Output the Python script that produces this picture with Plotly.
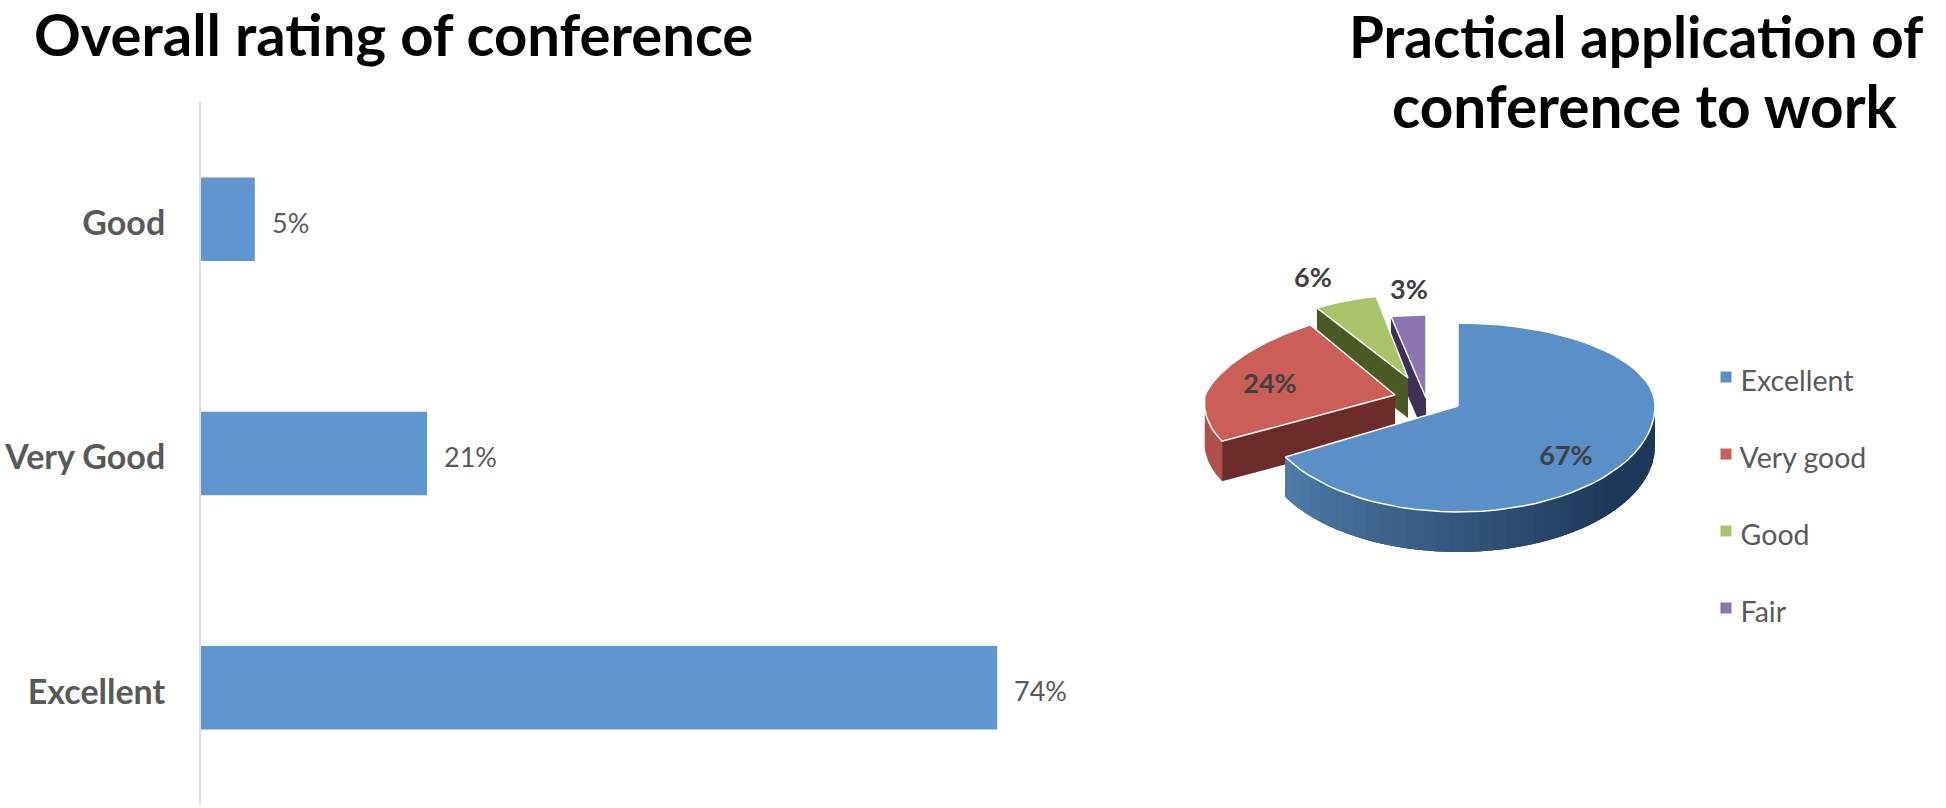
import math
import plotly.graph_objects as go

# ---- data ----
bar_categories = ["Excellent", "Very Good", "Good"]
bar_values = [74, 21, 5]
pie_categories = ["Excellent", "Very good", "Good", "Fair"]
pie_values = [67, 24, 6, 3]
left_title = "Overall rating of conference"
right_title_lines = ["Practical application of", "conference to work"]

# ---- style / layout constants ----
W, H = 1946, 808
FONT = "Lato"
BAR_COLOR = "#5f96cf"
TOP = ["#5a8fc8", "#cb5f58", "#a9c468", "#8c75b0"]
CUT = ["#1f3b5c", "#6b2c2a", "#4b5a25", "#3f3059"]
WALL_A = [(78, 124, 170), (176, 80, 76), (130, 150, 80), (100, 80, 130)]
WALL_B = [(29, 56, 88), (176, 80, 76), (110, 130, 66), (80, 64, 110)]
APEX = [(1458, 406), (1395, 395), (1408, 378), (1426, 398)]
RX = [197, 190, 170, 187]
K_BACK = [0, 0.2, 0, 0]     # narrowing of the far half of a slice
K_FRONT = [0, 0.08, 0, 0]   # widening of the near half of a slice
RY_BACK = 83
RY_FRONT = [106, 96, 106, 106]
DEPTH = 40
LABEL_POS = [(1566, 458), (1270, 386), (1313, 280), (1409, 292)]
KEY_X = 1726
KEY_MARK_Y = [377, 454, 531, 608]
KEY_TEXT_Y = [384, 461, 538, 615]
PLOT_L, PLOT_R, PLOT_T, PLOT_B = 201, 1101, 102, 805
PX_PER_UNIT = 10.76

fig = go.Figure()

# bar chart
fig.add_trace(go.Bar(
    x=bar_values, y=bar_categories, orientation="h", width=0.356,
    marker=dict(color=BAR_COLOR, line=dict(width=0)), showlegend=False,
    xaxis="x", yaxis="y", hoverinfo="skip"))


def pt(i, deg):
    t = math.radians(deg)
    c = math.cos(t)
    ry = RY_BACK if c > 0 else RY_FRONT[i]
    k = K_BACK[i] if c > 0 else K_FRONT[i]
    return APEX[i][0] + RX[i] * math.sin(t) * (1 - k * c), APEX[i][1] - ry * c


def poly(xs, ys, fill, line="rgba(0,0,0,0)", lw=0):
    fig.add_trace(go.Scatter(
        x=xs + xs[:1], y=ys + ys[:1], mode="lines", fill="toself", fillcolor=fill,
        line=dict(color=line, width=lw), showlegend=False, xaxis="x2", yaxis="y2",
        hoverinfo="skip"))


def arc(i, a, b, n=60):
    return [pt(i, a + (b - a) * k / n) for k in range(n + 1)]


total = sum(pie_values)
spans = []
cum = 0.0
for v in pie_values:
    spans.append((cum * 360 / total, (cum + v) * 360 / total))
    cum += v

# back wedges first, the large one last so that it overlaps the others
for i in [3, 2, 1, 0]:
    a, b = spans[i]
    ax, ay = APEX[i]
    # radial cut face at the wedge's start angle (visible for the pulled slices)
    if i > 0:
        x1, y1 = pt(i, a)
        poly([ax, x1, x1, ax], [ay, y1, y1 + DEPTH, ay + DEPTH], CUT[i])
    # outer wall, front-facing part only
    w0, w1 = max(a, 90), min(b, 270)
    if w0 < w1:
        n = 36 if i == 0 else 1
        for k in range(n):
            p = w0 + (w1 - w0) * k / n
            q = w0 + (w1 - w0) * (k + 1) / n
            f = (241 - (p + q) / 2) / 110
            f = max(0, min(1, f))
            rgb = tuple(round(WALL_A[i][c] + (WALL_B[i][c] - WALL_A[i][c]) * f) for c in range(3))
            q = min(w1, q + 2 * (w1 - w0) / n)
            pts = arc(i, p, q, 12)
            xs = [s[0] for s in pts]
            ys = [s[1] for s in pts]
            poly(xs + xs[::-1], ys + [y + DEPTH for y in ys[::-1]], "rgb(%d,%d,%d)" % rgb)
    # top face
    pts = arc(i, a, b)
    poly([ax] + [p[0] for p in pts], [ay] + [p[1] for p in pts], TOP[i], "white", 1.5)

# slice percentages
fig.add_trace(go.Scatter(
    x=[p[0] for p in LABEL_POS], y=[p[1] for p in LABEL_POS], mode="text",
    text=["<b>%d%%</b>" % v for v in pie_values],
    textfont=dict(family=FONT, size=27, color="#404040"), showlegend=False,
    xaxis="x2", yaxis="y2", hoverinfo="skip"))

# pie key
fig.add_trace(go.Scatter(
    x=[KEY_X] * 4, y=KEY_MARK_Y, mode="markers",
    marker=dict(symbol="square", size=11, color=TOP), showlegend=False,
    xaxis="x2", yaxis="y2", hoverinfo="skip"))
fig.add_trace(go.Scatter(
    x=[KEY_X] * 4, y=KEY_TEXT_Y, mode="text",
    text=["  " + c for c in pie_categories], textposition="middle right",
    textfont=dict(family=FONT, size=28.5, color="#595959"), showlegend=False,
    xaxis="x2", yaxis="y2", hoverinfo="skip"))

# bar value labels
annotations = [
    dict(x=v, y=c, xref="x", yref="y", text="%d%%" % v, showarrow=False, xanchor="left",
         xshift=15, yshift=-3, font=dict(family=FONT, size=27, color="#595959"))
    for v, c in zip(bar_values, bar_categories)
]
annotations += [
    dict(x=393, y=33, xref="x2", yref="y2", text="<b>%s</b>" % left_title, showarrow=False,
         font=dict(family=FONT, size=58, color="black")),
    dict(x=1636, y=36, xref="x2", yref="y2", text="<b>%s</b>" % right_title_lines[0], showarrow=False,
         font=dict(family=FONT, size=56.5, color="black")),
    dict(x=1645, y=105, xref="x2", yref="y2", text="<b>%s</b>" % right_title_lines[1], showarrow=False,
         font=dict(family=FONT, size=58.5, color="black")),
]

fig.update_layout(
    width=W, height=H, margin=dict(l=0, r=0, t=0, b=0), autosize=False,
    paper_bgcolor="white", plot_bgcolor="rgba(0,0,0,0)", annotations=annotations,
    xaxis=dict(domain=[PLOT_L / W, PLOT_R / W], range=[0, (PLOT_R - PLOT_L) / PX_PER_UNIT],
               visible=False, fixedrange=True),
    yaxis=dict(domain=[1 - PLOT_B / H, 1 - PLOT_T / H], type="category", anchor="x",
               categoryorder="array", categoryarray=bar_categories,
               range=[-0.5, 2.5], showgrid=False, zeroline=False,
               showline=True, linecolor="#dedede", linewidth=2,
               ticks="outside", ticklen=27, tickcolor="rgba(0,0,0,0)",
               tickmode="array", tickvals=bar_categories,
               ticktext=["<b>%s</b>" % c for c in bar_categories],
               ticklabelshift=4,
               tickfont=dict(family=FONT, size=34, color="#595959")),
    xaxis2=dict(domain=[0, 1], range=[0, W], visible=False, anchor="y2"),
    yaxis2=dict(domain=[0, 1], range=[H, 0], visible=False, anchor="x2"),
)
fig.write_html("out.html", config=dict(displayModeBar=False),
               post_script="document.body.style.margin='0';document.body.style.overflow='hidden';")
